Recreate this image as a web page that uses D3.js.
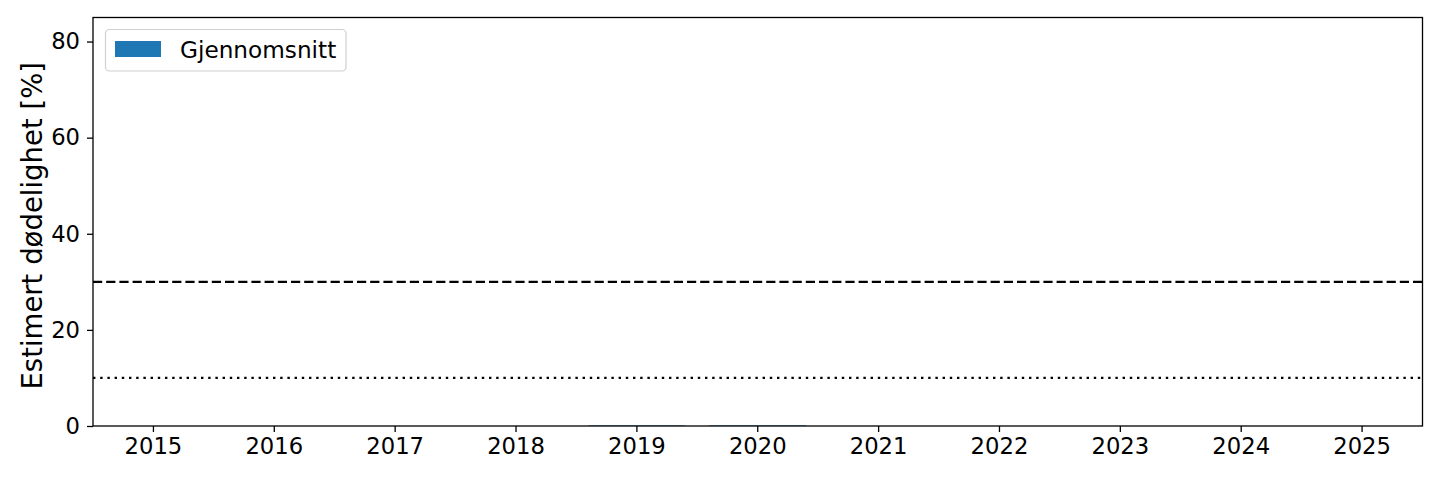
<!DOCTYPE html>
<html>
<head>
<meta charset="utf-8">
<script src="https://cdn.jsdelivr.net/npm/d3@7"></script>
<style>
  html, body { margin: 0; padding: 0; background: #fff; }
  svg { display: block; }
  text { font-family: "DejaVu Sans", sans-serif; fill: #000; }
</style>
</head>
<body>
<svg id="chart" width="1440" height="479"></svg>
<script>
const years = ["2015","2016","2017","2018","2019","2020","2021","2022","2023","2024","2025"];
const meanValues = [0, 0, 0, 0, 0.12, 0.12, 0, 0, 0, 0, 0];
const yTicks = [0, 20, 40, 60, 80];
const refDashed = 30;
const refDotted = 10;
const seriesName = "Gjennomsnitt";
const yLabel = "Estimert dødelighet [%]";

const W = 1440, H = 479;
const m = { left: 93, right: 1422.5, top: 17.5, bottom: 426 };
const svg = d3.select("#chart");

const x = d3.scaleBand().domain(years).range([m.left, m.right]).paddingInner(0.2).paddingOuter(0.1);
const y = d3.scaleLinear().domain([0, 85]).range([m.bottom, m.top]);

// bars
svg.append("g").selectAll("rect").data(years.map((d, i) => ({ year: d, v: meanValues[i] })))
  .join("rect")
  .attr("x", d => x(d.year))
  .attr("width", x.bandwidth())
  .attr("y", d => y(d.v))
  .attr("height", d => y(0) - y(d.v))
  .attr("fill", "#1f77b4");

// reference lines
svg.append("line")
  .attr("x1", m.left).attr("x2", m.right)
  .attr("y1", y(refDashed)).attr("y2", y(refDashed))
  .attr("stroke", "#000").attr("stroke-width", 2.3).attr("stroke-dasharray", "9.2,4");
svg.append("line")
  .attr("x1", m.left).attr("x2", m.right)
  .attr("y1", y(refDotted)).attr("y2", y(refDotted))
  .attr("stroke", "#000").attr("stroke-width", 2.3).attr("stroke-dasharray", "2.4,4.8");

// axes
const xAxis = d3.axisBottom(x).tickSize(6).tickPadding(6);
const gx = svg.append("g").attr("transform", `translate(0,${m.bottom})`).call(xAxis);
gx.select(".domain").remove();
gx.selectAll(".tick line").attr("stroke", "#000").attr("stroke-width", 1.3);
gx.selectAll(".tick text").attr("font-size", "22.7px").attr("font-family", "DejaVu Sans").attr("fill", "#000");

const yAxis = d3.axisLeft(y).tickValues(yTicks).tickSize(6).tickPadding(7);
const gy = svg.append("g").attr("transform", `translate(${m.left},0)`).call(yAxis);
gy.select(".domain").remove();
gy.selectAll(".tick line").attr("stroke", "#000").attr("stroke-width", 1.3);
gy.selectAll(".tick text").attr("font-size", "22.7px").attr("font-family", "DejaVu Sans").attr("fill", "#000");

// frame
svg.append("rect")
  .attr("x", m.left).attr("y", m.top)
  .attr("width", m.right - m.left).attr("height", m.bottom - m.top)
  .attr("fill", "none").attr("stroke", "#000").attr("stroke-width", 1.3);

// y label
svg.append("text")
  .attr("transform", `translate(42,${(m.top + m.bottom) / 2 + 4}) rotate(-90)`)
  .attr("text-anchor", "middle")
  .attr("font-size", "27.5px")
  .text(yLabel);

// legend
const lg = svg.append("g");
lg.append("rect")
  .attr("x", 105.5).attr("y", 29.5).attr("width", 240.5).attr("height", 41.5)
  .attr("rx", 4).attr("ry", 4)
  .attr("fill", "#fff").attr("fill-opacity", 0.8)
  .attr("stroke", "#d0d0d0").attr("stroke-width", 1.2);
lg.append("rect")
  .attr("x", 115).attr("y", 41).attr("width", 46).attr("height", 16)
  .attr("fill", "#1f77b4");
lg.append("text")
  .attr("x", 180).attr("y", 57.5)
  .attr("font-size", "23.2px")
  .text(seriesName);
</script>
</body>
</html>
